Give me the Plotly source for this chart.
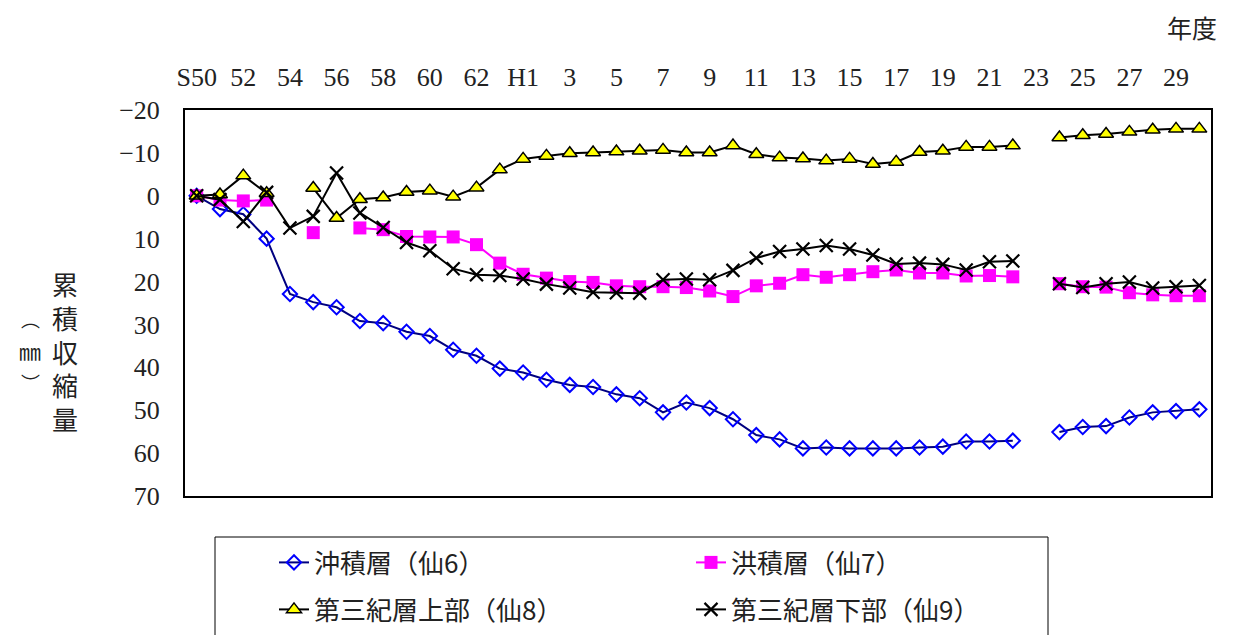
import plotly.graph_objects as go

years = list(range(1975, 2019))
tick_years = list(range(1975, 2018, 2))
tick_labels = ["S50", "52", "54", "56", "58", "60", "62", "H1", "3", "5", "7", "9",
               "11", "13", "15", "17", "19", "21", "23", "25", "27", "29"]
boundary_ticks = [y + 0.5 for y in range(1975, 2018)]

# 沖積層（仙6）
s6 = [0, 3.1, 4.3, 10.0, 22.9, 24.8, 26.0, 29.2, 29.7, 31.7, 32.7, 35.9, 37.3, 40.3,
      41.2, 42.9, 44.1, 44.6, 46.3, 47.2, 50.5, 48.2, 49.5, 52.1, 55.8, 56.8, 58.9,
      58.7, 58.9, 58.9, 58.9, 58.7, 58.5, 57.3, 57.3, 57.1, None, 55.1, 53.9, 53.7,
      51.7, 50.5, 50.2, 49.8]
# 洪積層（仙7）
s7 = [0, 1.0, 1.2, 1.0, None, 8.6, None, 7.5, 7.9, 9.5, 9.6, 9.6, 11.4, 15.7,
      18.3, 19.2, 20.0, 20.2, 21.0, 21.2, 21.2, 21.4, 22.2, 23.5, 21.0, 20.4, 18.4,
      19.0, 18.4, 17.7, 17.3, 18.0, 18.0, 18.7, 18.6, 18.9, None, 20.5, 21.2, 21.3,
      22.6, 23.1, 23.3, 23.3]
# 第三紀層上部（仙8）
s8 = [0, -0.3, -4.7, -0.6, None, -1.8, 5.2, 0.8, 0.4, -0.9, -1.2, 0.2, -1.9, -6.1,
      -8.6, -9.3, -9.9, -10.1, -10.3, -10.5, -10.7, -10.1, -10.1, -11.7, -9.7, -8.9,
      -8.7, -8.2, -8.6, -7.4, -7.9, -10.2, -10.5, -11.4, -11.4, -11.7, None, -13.6,
      -14.1, -14.4, -14.9, -15.4, -15.6, -15.6]
# 第三紀層下部（仙9）
s9 = [0, 0.9, 6.0, -0.8, 7.5, 4.8, -5.3, 4.0, 7.4, 10.9, 12.8, 17.0, 18.4, 18.6,
      19.4, 20.6, 21.5, 22.5, 22.6, 22.7, 19.6, 19.4, 19.6, 17.4, 14.5, 13.0, 12.4,
      11.6, 12.4, 13.8, 15.9, 15.7, 16.0, 17.3, 15.4, 15.2, None, 20.5, 21.4, 20.5,
      20.1, 21.5, 21.2, 20.9]

y_ticks = list(range(-20, 71, 10))

FONT_NUM = "Liberation Serif, Noto Sans CJK JP, serif"
FONT_JP = "Noto Sans CJK JP, sans-serif"

# plot area in page pixels (page body has an 8px offset)
OFF = 8
PL, PR, PT, PB = 185, 1211, 110, 496
PW, PH = PR - PL, PB - PT
W, H = 1238 - OFF, 635 - OFF


def px(x):
    return (x - PL) / PW


def py(y):
    return (PB - y) / PH


fig = go.Figure()
fig.add_trace(go.Scatter(
    x=years, y=s6, name="沖積層（仙6）", mode="lines+markers", legend="legend",
    line=dict(color="#000080", width=2),
    marker=dict(symbol="diamond-open", size=11, color="#0000FF", line=dict(width=2, color="#0000FF"))))
fig.add_trace(go.Scatter(
    x=years, y=s7, name="洪積層（仙7）", mode="lines+markers", legend="legend",
    line=dict(color="#FF00FF", width=2),
    marker=dict(symbol="square", size=13, color="#FF00FF")))
fig.add_trace(go.Scatter(
    x=years, y=s8, name="第三紀層上部（仙8）", mode="lines+markers", legend="legend2",
    line=dict(color="#000000", width=2),
    marker=dict(symbol="triangle-up", size=13, color="#FFFF00", line=dict(width=1.5, color="#000000"))))
fig.add_trace(go.Scatter(
    x=years, y=s9, name="第三紀層下部（仙9）", mode="lines+markers", legend="legend2",
    line=dict(color="#000000", width=2),
    marker=dict(symbol="x-thin", size=13, color="#000000", line=dict(width=2.2, color="#000000"))))

fig.update_layout(
    width=W, height=H,
    margin=dict(l=PL - OFF, r=W - (PR - OFF), t=PT - OFF, b=H - (PB - OFF), autoexpand=False),
    paper_bgcolor="white", plot_bgcolor="white",
    font=dict(family=FONT_NUM, size=26, color="#222222"),
    xaxis=dict(
        range=[1974.5, 2018.5], side="top",
        tickmode="array", tickvals=tick_years, ticktext=tick_labels,
        ticks="outside", ticklen=12, tickcolor="rgba(0,0,0,0)",
        showgrid=False, zeroline=False,
        showline=True, mirror=True, linecolor="#000000", linewidth=2,
        tickfont=dict(family=FONT_NUM, size=26, color="#222222"),
    ),
    xaxis2=dict(
        overlaying="x", matches="x", anchor="free", position=1 - 20 / 90, side="top",
        range=[1974.5, 2018.5],
        tickmode="array", tickvals=boundary_ticks,
        ticks="outside", ticklen=8, tickwidth=1, tickcolor="#000000",
        showticklabels=False, showgrid=False, zeroline=False,
        showline=True, linecolor="#000000", linewidth=1.5,
    ),
    yaxis=dict(
        range=[70, -20], tickmode="array", tickvals=y_ticks,
        ticks="outside", ticklen=18, tickcolor="rgba(0,0,0,0)",
        showgrid=False, zeroline=False,
        showline=True, mirror=True, linecolor="#000000", linewidth=2,
        tickfont=dict(family=FONT_NUM, size=26, color="#222222"),
    ),
    legend=dict(
        orientation="h", x=px(274), xanchor="left", y=py(539), yanchor="top",
        entrywidth=372, entrywidthmode="pixels",
        font=dict(family=FONT_JP, size=26, color="#222222"),
        bgcolor="rgba(0,0,0,0)", itemclick=False,
    ),
    legend2=dict(
        orientation="h", x=px(274), xanchor="left", y=py(586), yanchor="top",
        entrywidth=372, entrywidthmode="pixels",
        font=dict(family=FONT_JP, size=26, color="#222222"),
        bgcolor="rgba(0,0,0,0)", itemclick=False,
    ),
    showlegend=True,
)

# legend frame
fig.add_shape(type="rect", xref="paper", yref="paper",
              x0=px(215), x1=px(1048), y0=py(700), y1=py(537),
              line=dict(color="#000000", width=1), fillcolor="rgba(0,0,0,0)")

fig.add_annotation(text="年度", xref="paper", yref="paper",
                   x=px(1192), y=py(27), xanchor="center", yanchor="middle", showarrow=False,
                   font=dict(family=FONT_JP, size=25, color="#222222"))
fig.add_annotation(text="累<br>積<br>収<br>縮<br>量", xref="paper", yref="paper",
                   x=px(65), y=py(351), xanchor="center", yanchor="middle", showarrow=False,
                   font=dict(family=FONT_JP, size=26, color="#222222"))
for ch, yy, fs in (("︵", 318, 19), ("㎜", 350, 22), ("︶", 382, 19)):
    fig.add_annotation(text=ch, xref="paper", yref="paper",
                       x=px(30), y=py(yy), xanchor="center", yanchor="middle", showarrow=False,
                       font=dict(family=FONT_JP, size=fs, color="#222222"))

fig.write_html("out.html")
